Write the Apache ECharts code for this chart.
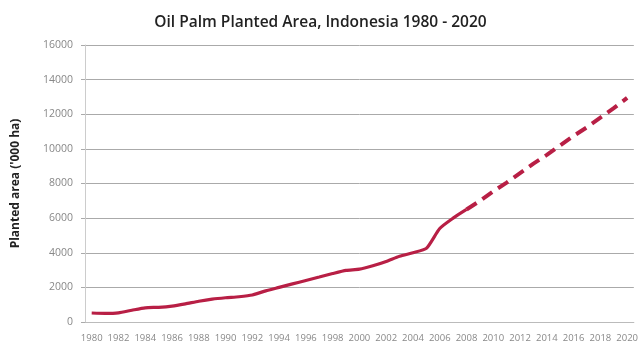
<!DOCTYPE html>
<html>
<head>
<meta charset="utf-8">
<script src="https://cdn.jsdelivr.net/npm/echarts@6/dist/echarts.min.js"></script>
<style>
  html, body { margin: 0; padding: 0; background: #fff; }
  #chart { width: 641px; height: 347px; }
</style>
</head>
<body>
<div id="chart"></div>
<script>
// Years on the category axis
const years = [];
for (let y = 1980; y <= 2020; y++) years.push(String(y));

// Recorded planted area, '000 ha (1980-2008)
const actualArea = [
  520, 500, 530, 680, 820, 850, 920, 1050, 1200, 1320,
  1400, 1460, 1560, 1800, 2000, 2200, 2400, 2600, 2800, 2980,
  3050, 3250, 3500, 3800, 4000, 4250, 5400, 6000, 6500
];

// Projected planted area, '000 ha (2008-2020)
const projectedArea = [
  6500, 7000, 7550, 8050, 8600, 9150, 9650, 10200, 10750, 11250,
  11800, 12350, 12950
];

const actualSeries = years.map((y, i) => i < actualArea.length ? actualArea[i] : '-');
const projStart = years.indexOf('2008');
const projectedSeries = years.map((y, i) =>
  i >= projStart && i - projStart < projectedArea.length ? projectedArea[i - projStart] : '-');

const lineColor = '#b81f45';

const chart = echarts.init(document.getElementById('chart'), null, { renderer: 'canvas' });
chart.setOption({
  animation: false,
  backgroundColor: '#fff',
  title: {
    text: 'Oil Palm Planted Area, Indonesia 1980 - 2020',
    left: 'center',
    top: 10,
    textStyle: { fontFamily: 'Open Sans', fontSize: 15.5, fontWeight: 600, color: '#222' }
  },
  grid: { left: 85, right: 6, top: 45, bottom: 25, containLabel: false },
  xAxis: {
    type: 'category',
    data: years,
    boundaryGap: true,
    axisLine: { lineStyle: { color: '#bbb', width: 1 } },
    axisTick: { show: false },
    axisLabel: {
      interval: 1,
      margin: 11,
      fontFamily: 'Open Sans',
      fontSize: 9.5,
      color: '#888'
    }
  },
  yAxis: {
    type: 'value',
    min: 0,
    max: 16000,
    interval: 2000,
    name: "Planted area ('000 ha)",
    nameLocation: 'middle',
    nameGap: 63,
    nameRotate: 90,
    nameTextStyle: { fontFamily: 'Open Sans', fontSize: 12, fontWeight: 'bold', color: '#222' },
    axisLine: { show: true, lineStyle: { color: '#ccc', width: 1 } },
    axisTick: { show: true, length: 4, lineStyle: { color: '#aaa' } },
    splitLine: { lineStyle: { color: '#aaa', width: 1 } },
    axisLabel: {
      margin: 12,
      fontFamily: 'Open Sans',
      fontSize: 10.5,
      color: '#888',
      formatter: v => String(v)
    }
  },
  series: [
    {
      name: 'Recorded',
      type: 'line',
      data: actualSeries,
      showSymbol: false,
      smooth: 0.2,
      lineStyle: { color: lineColor, width: 3.2 }
    },
    {
      name: 'Projected',
      type: 'line',
      data: projectedSeries,
      showSymbol: false,
      lineStyle: { color: lineColor, width: 4, type: [12, 7] }
    }
  ]
});
</script>
</body>
</html>
